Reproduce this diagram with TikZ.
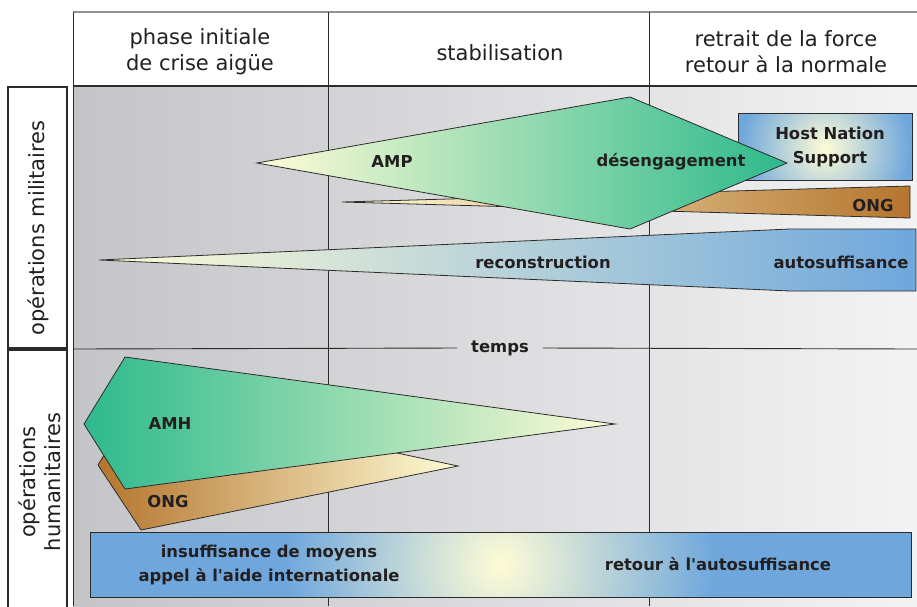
\documentclass[tikz,border=0pt]{standalone}
\usepackage{fontspec}
\setmainfont{DejaVu Sans}[Ligatures=TeXOff]
\usetikzlibrary{positioning}
\definecolor{ylight}{HTML}{FFFCD6}
\definecolor{amgreen}{HTML}{2DB98C}
\definecolor{nsblue}{HTML}{6FA7DC}
\definecolor{ongbrown}{HTML}{B5752E}
\definecolor{bgleft}{HTML}{C4C5C8}
\definecolor{bgright}{HTML}{F3F3F4}
\definecolor{txt}{HTML}{231F20}
\definecolor{edge}{HTML}{2B2B2B}
\tikzset{
  hdr/.style={font=\fontsize{21}{26}\selectfont, text=txt, align=center},
  lbl/.style={font=\bfseries\fontsize{16.4}{24}\selectfont, text=txt, align=center, inner sep=0pt},
  band/.style={draw=edge, line width=0.8pt, line join=miter},
  grid/.style={draw=edge, line width=0.9pt}
}
\begin{document}
\begin{tikzpicture}[x=1pt,y=-1pt]
                \useasboundingbox (0,0) rectangle (917,606);
                \fill[white] (0,0) rectangle (917,606);
                \shade[left color=bgleft, right color=bgright] (73,86) rectangle (917,606);
                % header and grid
                \draw[gray!85, line width=1.6pt] (73,12) -- (917,12);
                \draw[grid] (73,12) -- (73,606);
                \draw[grid] (328,12) -- (328,606);
                \draw[grid] (649,12) -- (649,606);
                \draw[grid, line width=1.6pt] (73,86) -- (917,86);
                \node[hdr] (phase1) at (200,52) {phase initiale\\de crise aigüe};
                \node[hdr] (phase2) at (500,53) {stabilisation};
                \node[hdr] (phase3) at (786,52) {retrait de la force\\retour à la normale};
                % side boxes
                \draw[grid, line width=1.2pt, fill=white] (8,87) rectangle (67,348);
                \draw[grid, line width=1.2pt, fill=white] (8,350) rectangle (67,612);
                \node[hdr, rotate=90] (milit) at (38,228) {opérations militaires};
                \node[hdr, rotate=90, font=\fontsize{21}{25}\selectfont] (human) at (40,482) {opérations\\humanitaires};
                % time axis
                \coordinate (divL) at (73,349);
                \coordinate (divR) at (917,349);
                \node[lbl, inner xsep=14pt, inner ysep=2pt] (temps) at (500,348) {temps};
                \draw[grid] (divL) -- (temps.west);
                \draw[grid] (temps.east) -- (divR);
                % military operations
                \shadedraw[band, left color=ylight, middle color=ylight!85!nsblue, right color=nsblue]
                    (99,260) -- (790,229) -- (916,229) -- (916,291) -- (790,291) -- cycle;
                \shadedraw[band, left color=ylight, middle color=ongbrown!50!ylight, right color=ongbrown]
                    (342,202) -- (910,186) -- (910,218) -- cycle;
                \fill[nsblue] (738,113) rectangle (912,180);
                \begin{scope}
                    \clip (738,113) rectangle (912,180);
                    \shade[inner color=ylight, outer color=nsblue] (825,148) circle (85);
                \end{scope}
                \draw[band] (738,113) rectangle (912,180);
                \shadedraw[band, left color=ylight, middle color=amgreen!40!ylight, right color=amgreen]
                    (257,163) -- (630,97) -- (787,163) -- (630,229) -- cycle;
                \node[lbl] (amp) at (392,162) {AMP};
                \node[lbl] (deseng) at (671,162) {désengagement};
                \node[lbl] (hns) at (830,147) {Host Nation\\Support};
                \node[lbl] (ongmil) at (873,206) {ONG};
                \node[lbl] (recon) at (543,262) {reconstruction};
                \node[lbl] (autosuf) at (841,262) {autosuffisance};
                % humanitarian operations
                \shadedraw[band, left color=ongbrown, middle color=ongbrown!40!ylight, right color=ylight]
                    (139,398) -- (458,466) -- (141,530) -- (98,465) -- cycle;
                \shadedraw[band, left color=amgreen, middle color=amgreen!38!ylight, right color=ylight]
                    (125,357) -- (615,424) -- (125,489) -- (84,424) -- cycle;
                \fill[nsblue] (90,532) rectangle (911,597);
                \begin{scope}
                    \clip (90,532) rectangle (911,597);
                    \shade[inner color=ylight, outer color=nsblue] (500,564) circle (215);
                \end{scope}
                \draw[band] (90,532) rectangle (911,597);
                \node[lbl] (amh) at (170,424) {AMH};
                \node[lbl] (onghum) at (168,502) {ONG};
                \node[lbl] (insuf) at (269,565) {insuffisance de moyens\\appel à l'aide internationale};
                \node[lbl] (retour) at (718,564) {retour à l'autosuffisance};
            \end{tikzpicture}
\end{document}
